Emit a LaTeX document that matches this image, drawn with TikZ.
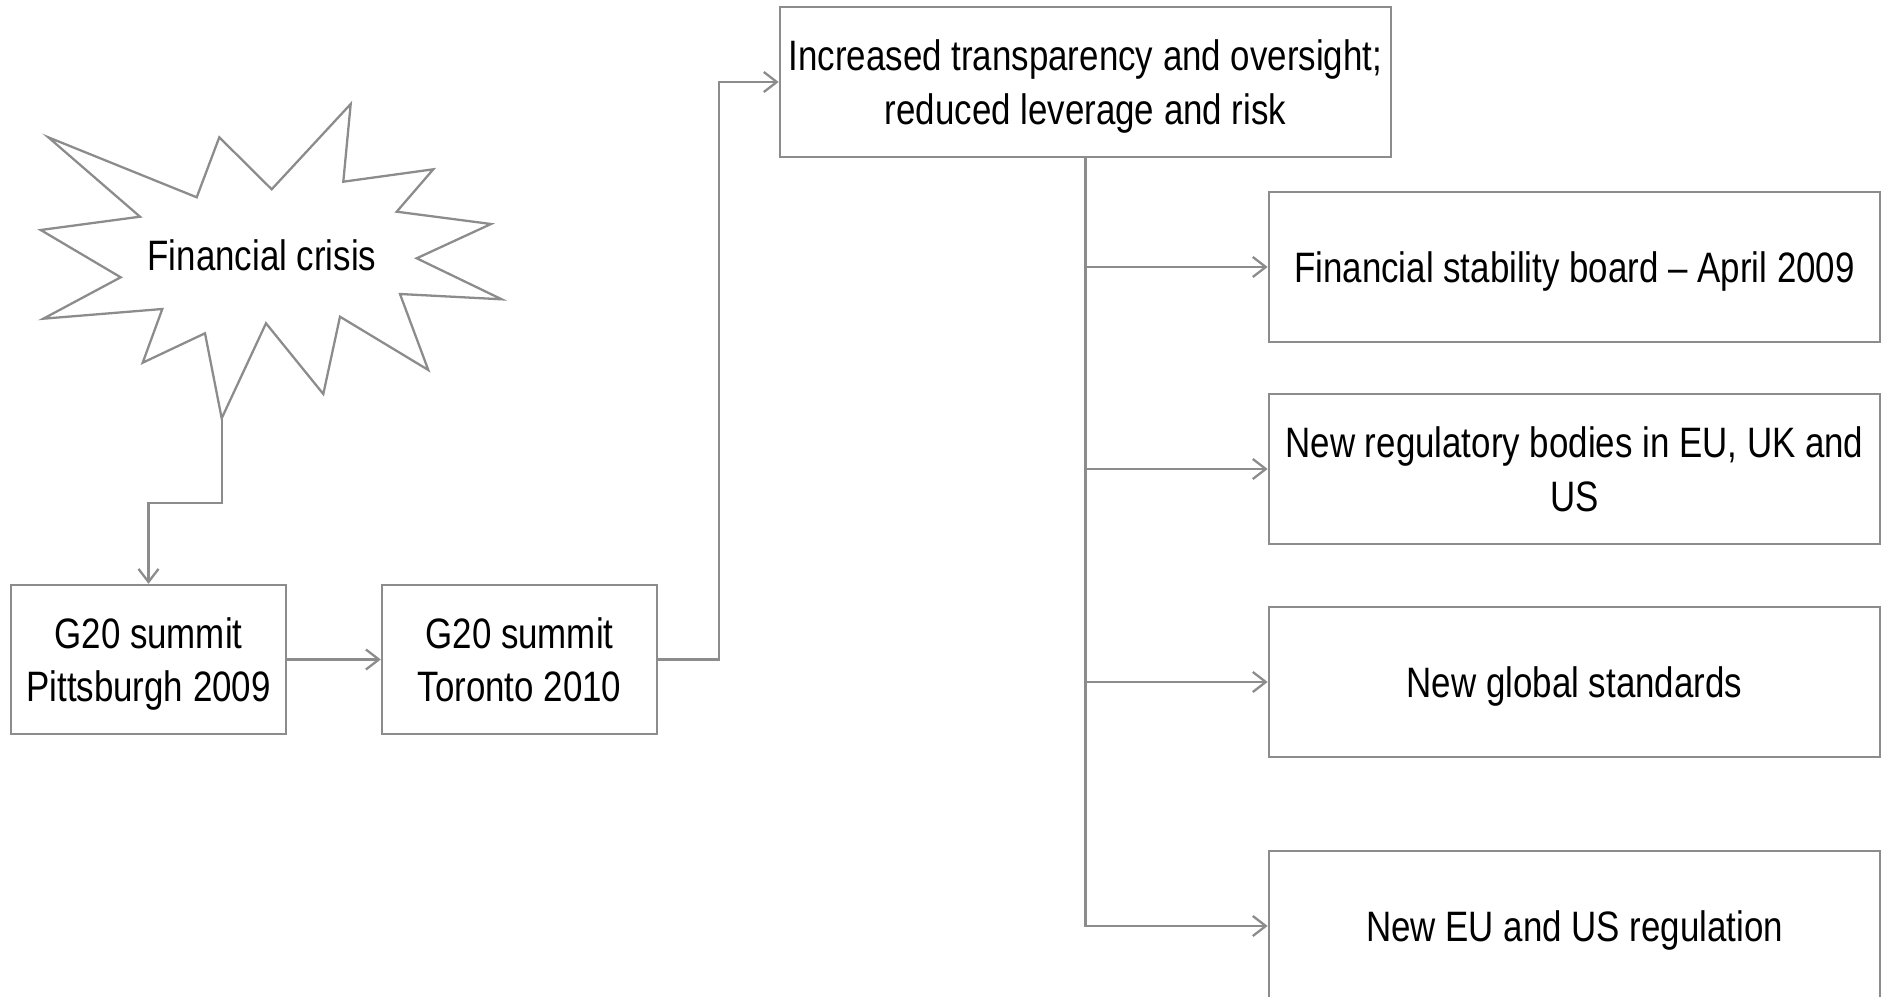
\documentclass[tikz,border=0pt]{standalone}
\usepackage{fontspec}
\setmainfont{Liberation Sans}[FakeStretch=0.82]
\usepackage{tikz}
\usetikzlibrary{positioning,calc,arrows.meta}
\definecolor{linegray}{HTML}{8C8C8C}

\begin{document}
\begin{tikzpicture}[x=0.01cm, y=-0.01cm, line width=0.65pt,
  font=\fontsize{12.1}{15.2}\selectfont,
  >={Straight Barb[length=0.13cm, width=0.2cm]},
  outbox/.style={draw=linegray, align=center, minimum width=6.11cm, minimum height=1.5cm, inner sep=2pt, text depth=0pt},
  summitbox/.style={draw=linegray, align=center, minimum width=2.75cm, minimum height=1.49cm, inner sep=2pt, text depth=0pt},
  link/.style={draw=linegray, ->}]
\useasboundingbox (0,0) rectangle (1884,997);
% the crisis burst
\draw[linegray] (48.3,137.3) -- (196.7,197.3) -- (219.3,137.3) -- (271.7,189.3)
  -- (350.7,104) -- (343.3,181.7) -- (433.3,169.3) -- (396.7,211.7)
  -- (491,224) -- (416.7,258.3) -- (501.7,299.3) -- (400,294)
  -- (428.3,370) -- (340,316.7) -- (323.3,394) -- (266,323.3)
  -- (221.7,418.3) -- (205,333.3) -- (142.7,362.7) -- (162.3,309)
  -- (43.3,318.7) -- (120.7,277.3) -- (40.7,230) -- (140,216.7) -- cycle;
\node (crisis) at (262,255) {Financial crisis};
\coordinate (tip) at (221.7,418.3);
\coordinate (bend) at (221.7,503);
% summits
\node[summitbox] (pitt) at (148.5,659.5) {G20 summit\\Pittsburgh 2009};
\node[summitbox] (toronto) at (519.5,659.5) {G20 summit\\Toronto 2010};
\draw[link] (tip) -- (bend) -| (pitt.north);
\draw[link] (pitt) -- (toronto);
% outcomes
\node[outbox] (aims) at (1085.5,82) {Increased transparency and oversight;\\reduced leverage and risk};
\draw[link] (toronto.east) -- ++(61,0) |- (aims.west);
\node[outbox] (r1) at (1574.5,267) {Financial stability board -- April 2009};
\node[outbox] (r2) at (1574.5,469) {New regulatory bodies in EU, UK and\\US};
\node[outbox] (r3) at (1574.5,682) {New global standards};
\node[outbox] (r4) at (1574.5,926) {New EU and US regulation};
\foreach \r in {r1,r2,r3,r4}
  \draw[link] (aims.south) |- (\r.west);
\end{tikzpicture}
\end{document}
